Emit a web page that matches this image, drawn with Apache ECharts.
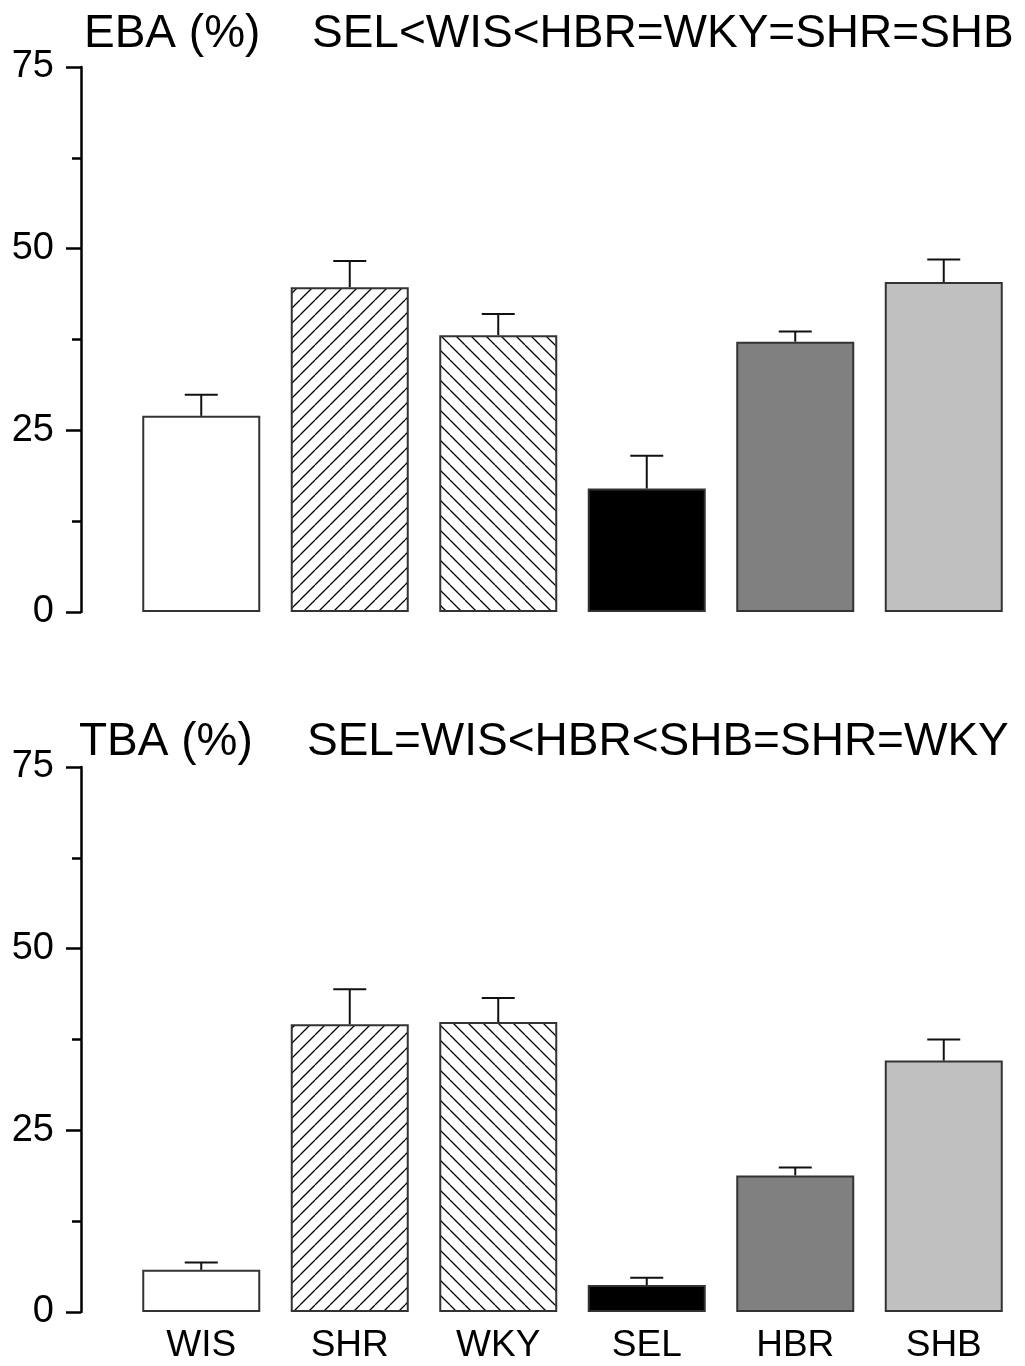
<!DOCTYPE html>
<html>
<head>
<meta charset="utf-8">
<script src="https://cdn.jsdelivr.net/npm/echarts@6/dist/echarts.min.js"></script>
<style>
html,body{margin:0;padding:0;background:#fff;}
#chart{width:1025px;height:1366px;}
</style>
</head>
<body>
<div id="chart"></div>
<script>
const categories = ['WIS', 'SHR', 'WKY', 'SEL', 'HBR', 'SHB'];
const ebaMean = [27.0, 44.7, 38.1, 17.0, 37.2, 45.4];
const ebaErr  = [2.9, 3.6, 2.9, 4.5, 1.4, 3.1];
const tbaMean = [5.8, 39.6, 39.9, 3.7, 18.8, 34.6];
const tbaErr  = [1.0, 4.8, 3.3, 1.0, 1.1, 2.9];
const yTicks = [0, 25, 50, 75];
const topTitleLeft = 'EBA (%)';
const topTitleRight = 'SEL<WIS<HBR=WKY=SHR=SHB';
const botTitleLeft = 'TBA (%)';
const botTitleRight = 'SEL=WIS<HBR<SHB=SHR=WKY';

function hatch(dir) {
  const s = 15;
  const c = document.createElement('canvas');
  c.width = s; c.height = s;
  const g = c.getContext('2d');
  g.fillStyle = '#fff';
  g.fillRect(0, 0, s, s);
  g.strokeStyle = '#000';
  g.lineWidth = 1.3;
  g.beginPath();
  if (dir === '/') {
    for (const o of [-s, 0, s]) { g.moveTo(o, s); g.lineTo(o + s, 0); }
  } else {
    for (const o of [-s, 0, s]) { g.moveTo(o, 0); g.lineTo(o + s, s); }
  }
  g.stroke();
  return c;
}

const fills = [
  '#ffffff',
  { image: hatch('/'), repeat: 'repeat' },
  { image: hatch('\\'), repeat: 'repeat' },
  '#000000',
  '#808080',
  '#c0c0c0'
];

const FONT = '"Liberation Sans", Arial, Helvetica, sans-serif';

function barData(means) {
  return means.map((v, i) => ({ value: v, itemStyle: { color: fills[i] } }));
}
function errData(means, errs) {
  return means.map((v, i) => [i, v, errs[i]]);
}
function errRender(params, api) {
  const x = api.value(0), v = api.value(1), e = api.value(2);
  const p0 = api.coord([x, v]);
  const p1 = api.coord([x, v + e]);
  const st = { stroke: '#111', lineWidth: 2 };
  return {
    type: 'group',
    children: [
      { type: 'line', shape: { x1: p0[0], y1: p0[1], x2: p1[0], y2: p1[1] }, style: st },
      { type: 'line', shape: { x1: p1[0] - 16.5, y1: p1[1], x2: p1[0] + 16.5, y2: p1[1] }, style: st }
    ]
  };
}

function yAxisDef(gi) {
  return {
    type: 'value', gridIndex: gi, min: yTicks[0], max: yTicks[yTicks.length - 1], interval: 25,
    offset: 46,
    axisLine: { show: true, lineStyle: { color: '#000', width: 2.5 } },
    axisTick: { show: true, length: 15, lineStyle: { color: '#000', width: 2.5 } },
    minorTick: { show: true, splitNumber: 2, length: 9, lineStyle: { color: '#000', width: 2.5 } },
    splitLine: { show: false },
    axisLabel: { fontSize: 38, color: '#000', fontFamily: FONT, margin: 27 }
  };
}
function xAxisDef(gi, showLabels) {
  return {
    type: 'category', gridIndex: gi, data: categories,
    axisLine: { show: false }, axisTick: { show: false },
    axisLabel: { show: showLabels, fontSize: 37, color: '#000', fontFamily: FONT, margin: 15 }
  };
}

const chart = echarts.init(document.getElementById('chart'), null, { renderer: 'canvas' });
const titleStyle = { fontSize: 46, fontWeight: 'normal', color: '#000', fontFamily: FONT };
chart.setOption({
  animation: false,
  backgroundColor: '#fff',
  title: [
    { text: topTitleLeft, left: 84, top: 11, padding: 0, textStyle: titleStyle },
    { text: topTitleRight, left: 312, top: 11, padding: 0, textStyle: titleStyle },
    { text: botTitleLeft, left: 79, top: 719, padding: 0, textStyle: titleStyle },
    { text: botTitleRight, left: 307, top: 719, padding: 0, textStyle: titleStyle }
  ],
  grid: [
    { left: 127, right: 7, top: 67, height: 545 },
    { left: 127, right: 7, top: 767, height: 545 }
  ],
  xAxis: [xAxisDef(0, false), xAxisDef(1, true)],
  yAxis: [yAxisDef(0), yAxisDef(1)],
  series: [
    { type: 'bar', xAxisIndex: 0, yAxisIndex: 0, data: barData(ebaMean), barWidth: 118,
      itemStyle: { borderColor: '#333', borderWidth: 2 } },
    { type: 'custom', xAxisIndex: 0, yAxisIndex: 0, data: errData(ebaMean, ebaErr), renderItem: errRender, z: 5 },
    { type: 'bar', xAxisIndex: 1, yAxisIndex: 1, data: barData(tbaMean), barWidth: 118,
      itemStyle: { borderColor: '#333', borderWidth: 2 } },
    { type: 'custom', xAxisIndex: 1, yAxisIndex: 1, data: errData(tbaMean, tbaErr), renderItem: errRender, z: 5 }
  ]
});
</script>
</body>
</html>
